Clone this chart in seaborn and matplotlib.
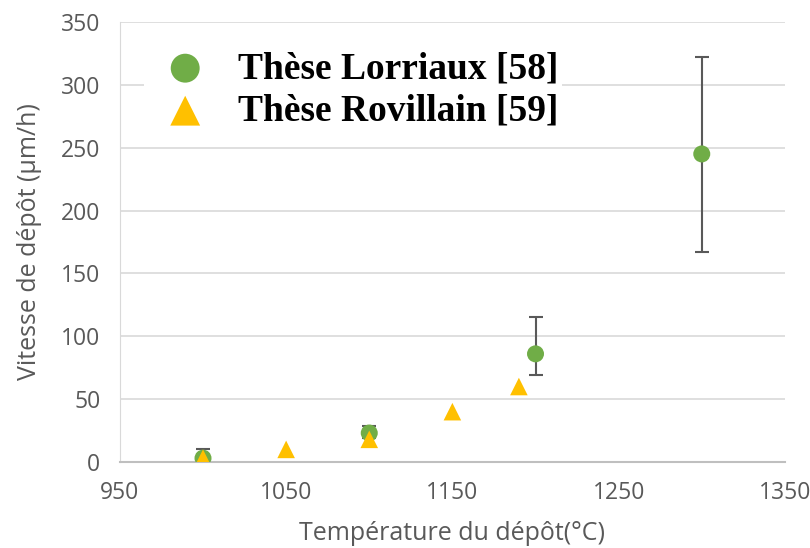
import numpy as np
import pandas as pd
import matplotlib
matplotlib.use("Agg")
import matplotlib.pyplot as plt
import seaborn as sns

# Thèse Lorriaux [58]
temp_lorriaux = [1000, 1100, 1200, 1300]
vit_lorriaux = [3, 23, 86, 245]
err_low = [3, 4, 17, 78]
err_high = [7, 6, 29, 77]

# Thèse Rovillain [59]
temp_rovillain = [1000, 1050, 1100, 1150, 1190]
vit_rovillain = [3, 10, 18, 40, 60]

sns.set_style("white")
plt.rcParams["font.family"] = ["Open Sans", "DejaVu Sans"]

fig, ax = plt.subplots(figsize=(8.1, 5.48), dpi=100)
fig.subplots_adjust(left=0.148, right=0.969, top=0.96, bottom=0.157)

ax.errorbar(temp_lorriaux, vit_lorriaux, yerr=[err_low, err_high], fmt="none",
            ecolor="#595959", elinewidth=1.5, capsize=5, capthick=1.5, zorder=2)
sns.scatterplot(x=temp_lorriaux, y=vit_lorriaux, ax=ax, color="#70AD47", marker="o",
                s=150, edgecolor="none", label="Thèse Lorriaux [58]", zorder=3)
sns.scatterplot(x=temp_rovillain, y=vit_rovillain, ax=ax, color="#FFC000", marker="^",
                s=160, edgecolor="none", label="Thèse Rovillain [59]", zorder=4)

ax.set_xlim(950, 1350)
ax.set_ylim(0, 350)
ax.set_xticks(np.arange(950, 1351, 100))
ax.set_yticks(np.arange(0, 351, 50))
ax.yaxis.grid(True, color="#D9D9D9", linewidth=1.2)
ax.xaxis.grid(False)
for s in ["top", "right"]:
    ax.spines[s].set_visible(False)
ax.spines["left"].set_color("#D9D9D9")
ax.spines["bottom"].set_color("#BFBFBF")
ax.spines["bottom"].set_linewidth(1.5)
ax.tick_params(axis="both", labelsize=16.5, labelcolor="#595959", length=0)
ax.tick_params(axis="x", pad=14)
ax.tick_params(axis="y", pad=14)

ax.set_xlabel("Température du dépôt(°C)", fontsize=18, color="#595959", labelpad=11)
ax.set_ylabel("Vitesse de dépôt (µm/h)", fontsize=18, color="#595959", labelpad=14)

leg = ax.legend(loc="upper left", bbox_to_anchor=(0.008, 0.985), frameon=True,
                markerscale=1.7, handletextpad=0.4, labelspacing=0.2,
                borderpad=0.1, prop={"family": "Liberation Serif", "weight": "bold", "size": 27})
leg.get_frame().set_facecolor("white")
leg.get_frame().set_edgecolor("none")
leg.get_frame().set_alpha(1)
for t in leg.get_texts():
    t.set_color("black")

fig.savefig("out.png", dpi=100)
